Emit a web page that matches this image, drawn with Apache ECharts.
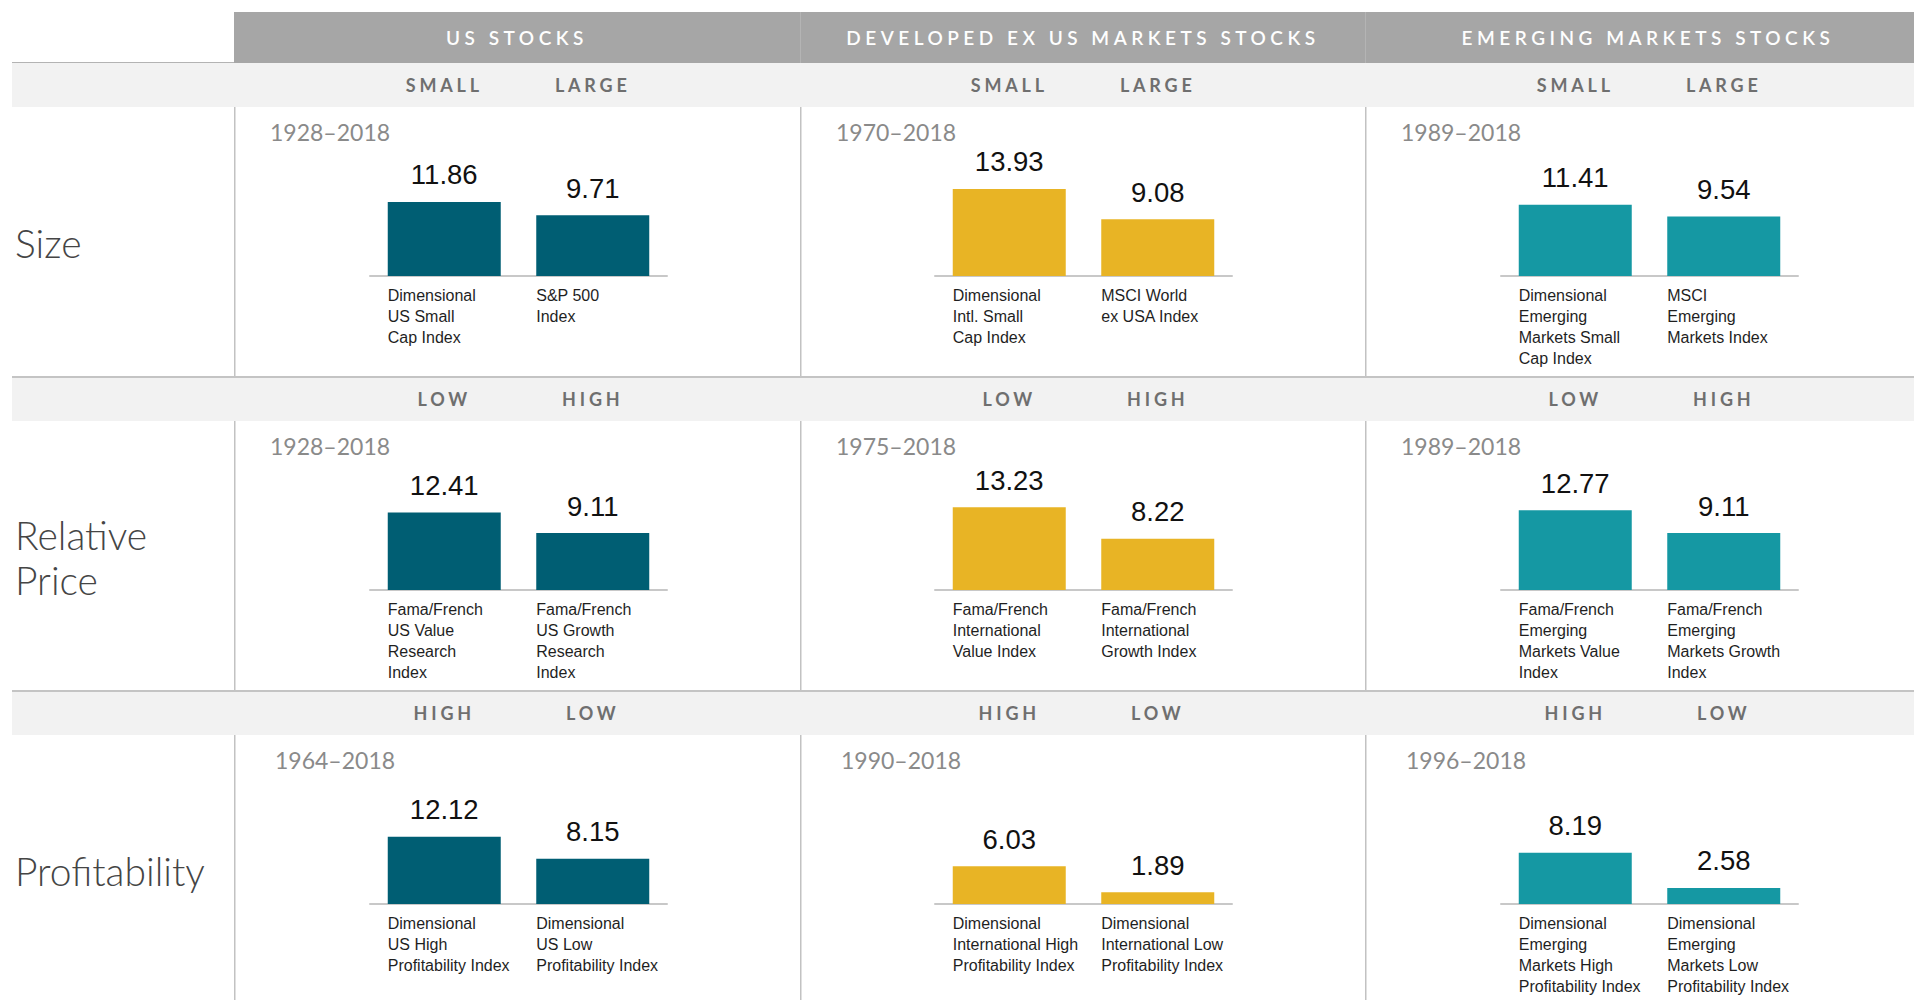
<!DOCTYPE html>
<html>
<head>
<meta charset="utf-8">
<script src="https://cdn.jsdelivr.net/npm/echarts@6/dist/echarts.min.js"></script>
<style>
  html, body { margin: 0; padding: 0; background: #fff; }
  #chart-container { width: 1914px; height: 1000px; }
  /* spaced capitals for the headers (svg renderer) */
  #chart-container text[fill="#fefefe"] { letter-spacing: 4.5px; }
  #chart-container text[fill="#6f6f6f"] { letter-spacing: 3.8px; }
</style>
</head>
<body>
<div id="chart-container"></div>
<script>
const columnTitles = ['US STOCKS', 'DEVELOPED EX US MARKETS STOCKS', 'EMERGING MARKETS STOCKS'];
const rowTitles = ['Size', 'Relative\nPrice', 'Profitability'];
const pairTitles = [['SMALL', 'LARGE'], ['LOW', 'HIGH'], ['HIGH', 'LOW']];

// row by row, left to right
const periods = [
    '1928–2018', '1970–2018', '1989–2018',
    '1928–2018', '1975–2018', '1989–2018',
    '1964–2018', '1990–2018', '1996–2018'
];
const indexNames = [
    ['Dimensional\nUS Small\nCap Index', 'S&P 500\nIndex'],
    ['Dimensional\nIntl. Small\nCap Index', 'MSCI World\nex USA Index'],
    ['Dimensional\nEmerging\nMarkets Small\nCap Index', 'MSCI\nEmerging\nMarkets Index'],
    ['Fama/French\nUS Value\nResearch\nIndex', 'Fama/French\nUS Growth\nResearch\nIndex'],
    ['Fama/French\nInternational\nValue Index', 'Fama/French\nInternational\nGrowth Index'],
    ['Fama/French\nEmerging\nMarkets Value\nIndex', 'Fama/French\nEmerging\nMarkets Growth\nIndex'],
    ['Dimensional\nUS High\nProfitability Index', 'Dimensional\nUS Low\nProfitability Index'],
    ['Dimensional\nInternational High\nProfitability Index', 'Dimensional\nInternational Low\nProfitability Index'],
    ['Dimensional\nEmerging\nMarkets High\nProfitability Index', 'Dimensional\nEmerging\nMarkets Low\nProfitability Index']
];
const returns = [
    [11.86, 9.71], [13.93, 9.08], [11.41, 9.54],
    [12.41, 9.11], [13.23, 8.22], [12.77, 9.11],
    [12.12, 8.15], [6.03, 1.89], [8.19, 2.58]
];
const columnColors = ['#005e73', '#e8b425', '#1598a3'];

// layout
const colLeft = [234, 800, 1365];
const colWidth = 566;
const rowTop = [107, 421, 735];
const rowHeight = 269;
const gridLeft = [370, 935, 1501];
const gridWidth = 297;
const gridHeight = 100;
const baseOffset = 169;
const yMax = [16, 16, 16, 16, 16, 16, 18, 16, 16];
const periodOffset = [36, 36, 41];

const plainSans = "'Liberation Sans', Arial, sans-serif";
const avenirLike = "Lato, 'Open Sans', sans-serif";

let myChart = echarts.init(document.getElementById('chart-container'), null, { renderer: 'svg' });

const grids = [], xAxes = [], yAxes = [], series = [];
const graphics = [];

// bands and rules
graphics.push({ type: 'rect', shape: { x: 234, y: 12, width: 1680, height: 51 }, style: { fill: '#a6a6a6' } });
graphics.push({ type: 'rect', shape: { x: 12, y: 62, width: 222, height: 2 }, style: { fill: '#b3b3b3' } });
rowTop.forEach((top, r) => {
    graphics.push({ type: 'rect', shape: { x: 12, y: top - 44, width: 1902, height: 44 }, style: { fill: '#f2f2f2' } });
    if (r > 0) {
        graphics.push({ type: 'rect', shape: { x: 12, y: top - 45, width: 1902, height: 2 }, style: { fill: '#c4c4c4' } });
    }
    colLeft.forEach(x => {
        graphics.push({ type: 'rect', shape: { x: x, y: top, width: 1.5, height: rowHeight }, style: { fill: '#c2c2c2' } });
    });
    graphics.push({
        type: 'text',
        style: { text: rowTitles[r], x: 15, y: top + 136, verticalAlign: 'middle', fill: '#454545', font: '300 39px ' + avenirLike, lineHeight: 45 }
    });
});
colLeft.slice(1).forEach(x => {
    graphics.push({ type: 'rect', shape: { x: x, y: 12, width: 1, height: 51 }, style: { fill: '#b4b4b4' } });
});
columnTitles.forEach((t, c) => {
    graphics.push({
        type: 'text',
        style: { text: t, x: colLeft[c] + colWidth / 2, y: 37, align: 'center', verticalAlign: 'middle', fill: '#fefefe', font: '600 19px ' + avenirLike }
    });
});

for (let r = 0; r < 3; r++) {
    for (let c = 0; c < 3; c++) {
        const i = r * 3 + c;
        const top = rowTop[r] + baseOffset - gridHeight;
        grids.push({ left: gridLeft[c], top: top, width: gridWidth, height: gridHeight, containLabel: false });
        xAxes.push({
            gridIndex: i,
            type: 'category',
            data: indexNames[i],
            axisTick: { show: false },
            axisLine: { lineStyle: { color: '#c8c8c8', width: 2 } },
            axisLabel: {
                interval: 0,
                margin: 9,
                formatter: v => '{n|' + v + '}',
                rich: {
                    n: { width: 113, align: 'left', fontSize: 16, lineHeight: 21, fontFamily: plainSans, color: '#1f1f1f' }
                }
            }
        });
        yAxes.push({ gridIndex: i, type: 'value', min: 0, max: yMax[i], show: false });
        series.push({
            type: 'bar',
            xAxisIndex: i,
            yAxisIndex: i,
            data: returns[i],
            barWidth: 113,
            itemStyle: { color: columnColors[c] },
            label: {
                show: true,
                position: 'top',
                distance: 13,
                formatter: p => p.value.toFixed(2),
                fontSize: 27.5,
                fontFamily: plainSans,
                color: '#111111'
            }
        });

        // period and pair headings
        graphics.push({
            type: 'text',
            style: { text: periods[i], x: colLeft[c] + periodOffset[r], y: rowTop[r] + 25, verticalAlign: 'middle', fill: '#8a8a8a', font: '23px ' + avenirLike }
        });
        pairTitles[r].forEach((t, k) => {
            graphics.push({
                type: 'text',
                style: {
                    text: t,
                    x: gridLeft[c] + gridWidth * (k === 0 ? 0.25 : 0.75),
                    y: rowTop[r] - 22,
                    align: 'center',
                    verticalAlign: 'middle',
                    fill: '#6f6f6f',
                    font: 'bold 18px ' + avenirLike
                }
            });
        });
    }
}

const option = {
    backgroundColor: '#ffffff',
    animation: false,
    graphic: { elements: graphics },
    grid: grids,
    xAxis: xAxes,
    yAxis: yAxes,
    series: series
};

option && myChart.setOption(option);
</script>
</body>
</html>
